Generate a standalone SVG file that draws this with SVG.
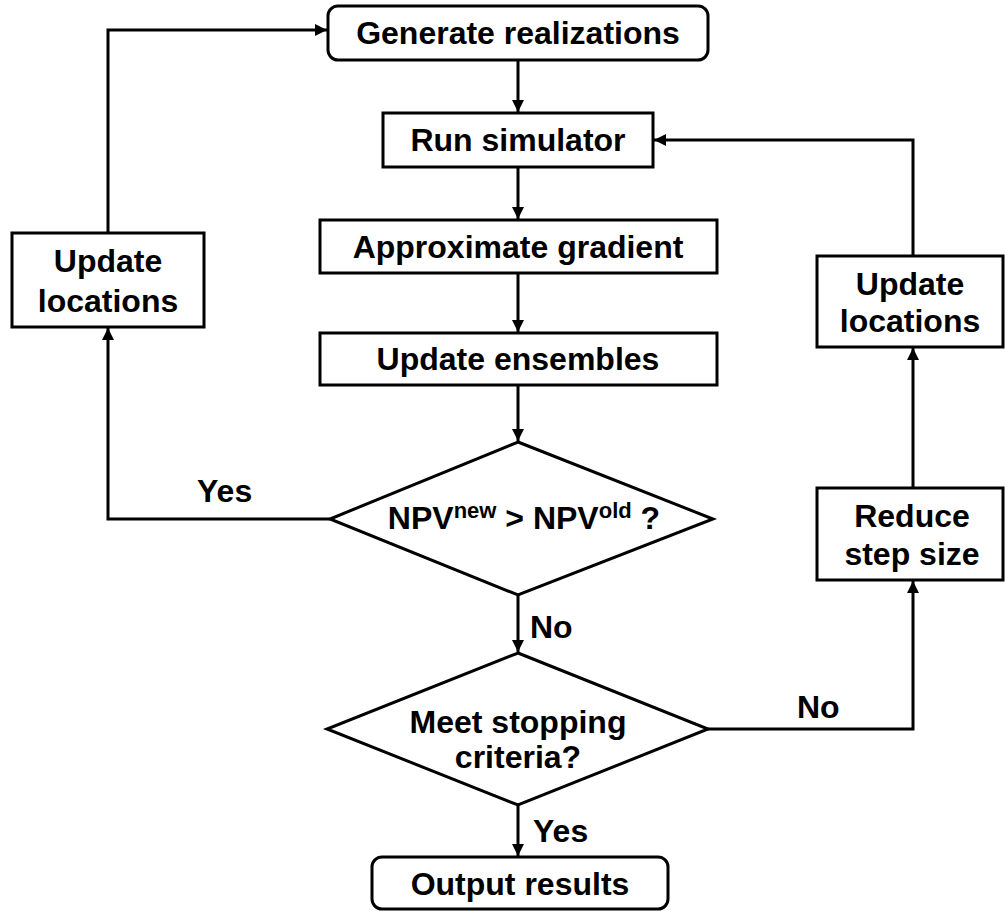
<svg xmlns="http://www.w3.org/2000/svg" width="1005" height="911" viewBox="0 0 1005 911">
<style>
.box{fill:#fff;stroke:#000;stroke-width:3}
.ln{fill:none;stroke:#000;stroke-width:3}
text{font-family:"Liberation Sans",Arial,sans-serif;font-weight:bold;font-size:32px;fill:#000;text-anchor:middle}
.lbl{text-anchor:start}
</style>
<defs>
<marker id="ah" viewBox="0 0 10 10" refX="10" refY="5" markerWidth="4" markerHeight="4" orient="auto" markerUnits="strokeWidth">
<path d="M0,0 L10,5 L0,10 z" fill="#000"/>
</marker>
</defs>
<g id="connectors">
<line class="ln" x1="518" y1="60" x2="518" y2="112" marker-end="url(#ah)"/>
<line class="ln" x1="518" y1="167" x2="518" y2="219" marker-end="url(#ah)"/>
<line class="ln" x1="518" y1="273" x2="518" y2="332" marker-end="url(#ah)"/>
<line class="ln" x1="518" y1="385" x2="518" y2="441" marker-end="url(#ah)"/>
<line class="ln" x1="518" y1="595" x2="518" y2="652" marker-end="url(#ah)"/>
<line class="ln" x1="518" y1="805" x2="518" y2="856" marker-end="url(#ah)"/>
<polyline class="ln" points="330,519 108,519 108,328" marker-end="url(#ah)"/>
<polyline class="ln" points="108,233 108,30 327,30" marker-end="url(#ah)"/>
<polyline class="ln" points="708,729 913,729 913,581" marker-end="url(#ah)"/>
<line class="ln" x1="913" y1="488" x2="913" y2="348" marker-end="url(#ah)"/>
<polyline class="ln" points="913,256 913,140 654,140" marker-end="url(#ah)"/>
<text class="lbl" x="197" y="502">Yes</text>
<text class="lbl" x="530" y="638">No</text>
<text class="lbl" x="797" y="718">No</text>
<text class="lbl" x="533" y="842">Yes</text>
</g>
<g id="generate"><rect class="box" x="328" y="6" width="380" height="54" rx="10"/><text x="518" y="44">Generate realizations</text></g>
<g id="runsim"><rect class="box" x="383" y="113" width="270" height="54"/><text x="518" y="151">Run simulator</text></g>
<g id="approx"><rect class="box" x="320" y="220" width="397" height="53"/><text x="518" y="258">Approximate gradient</text></g>
<g id="ensembles"><rect class="box" x="320" y="333" width="397" height="52"/><text x="518" y="370">Update ensembles</text></g>
<g id="npv"><polygon class="box" points="518,442 713,519 518,595 330,519"/><text x="524" y="529">NPV<tspan font-size="22" dy="-11">new</tspan><tspan dy="11"> &gt; NPV</tspan><tspan font-size="22" dy="-11">old</tspan><tspan dy="11"> ?</tspan></text></g>
<g id="stop"><polygon class="box" points="518,653 708,729 518,805 327,729"/><text x="518" y="733">Meet stopping</text><text x="518" y="768">criteria?</text></g>
<g id="output"><rect class="box" x="372" y="857" width="296" height="52" rx="10"/><text x="520" y="895">Output results</text></g>
<g id="updleft"><rect class="box" x="12" y="233" width="192" height="94"/><text x="108" y="272">Update</text><text x="108" y="312">locations</text></g>
<g id="updright"><rect class="box" x="817" y="256" width="186" height="91"/><text x="910" y="295">Update</text><text x="910" y="332">locations</text></g>
<g id="reduce"><rect class="box" x="817" y="488" width="186" height="92"/><text x="912" y="527">Reduce</text><text x="912" y="565">step size</text></g>
</svg>
